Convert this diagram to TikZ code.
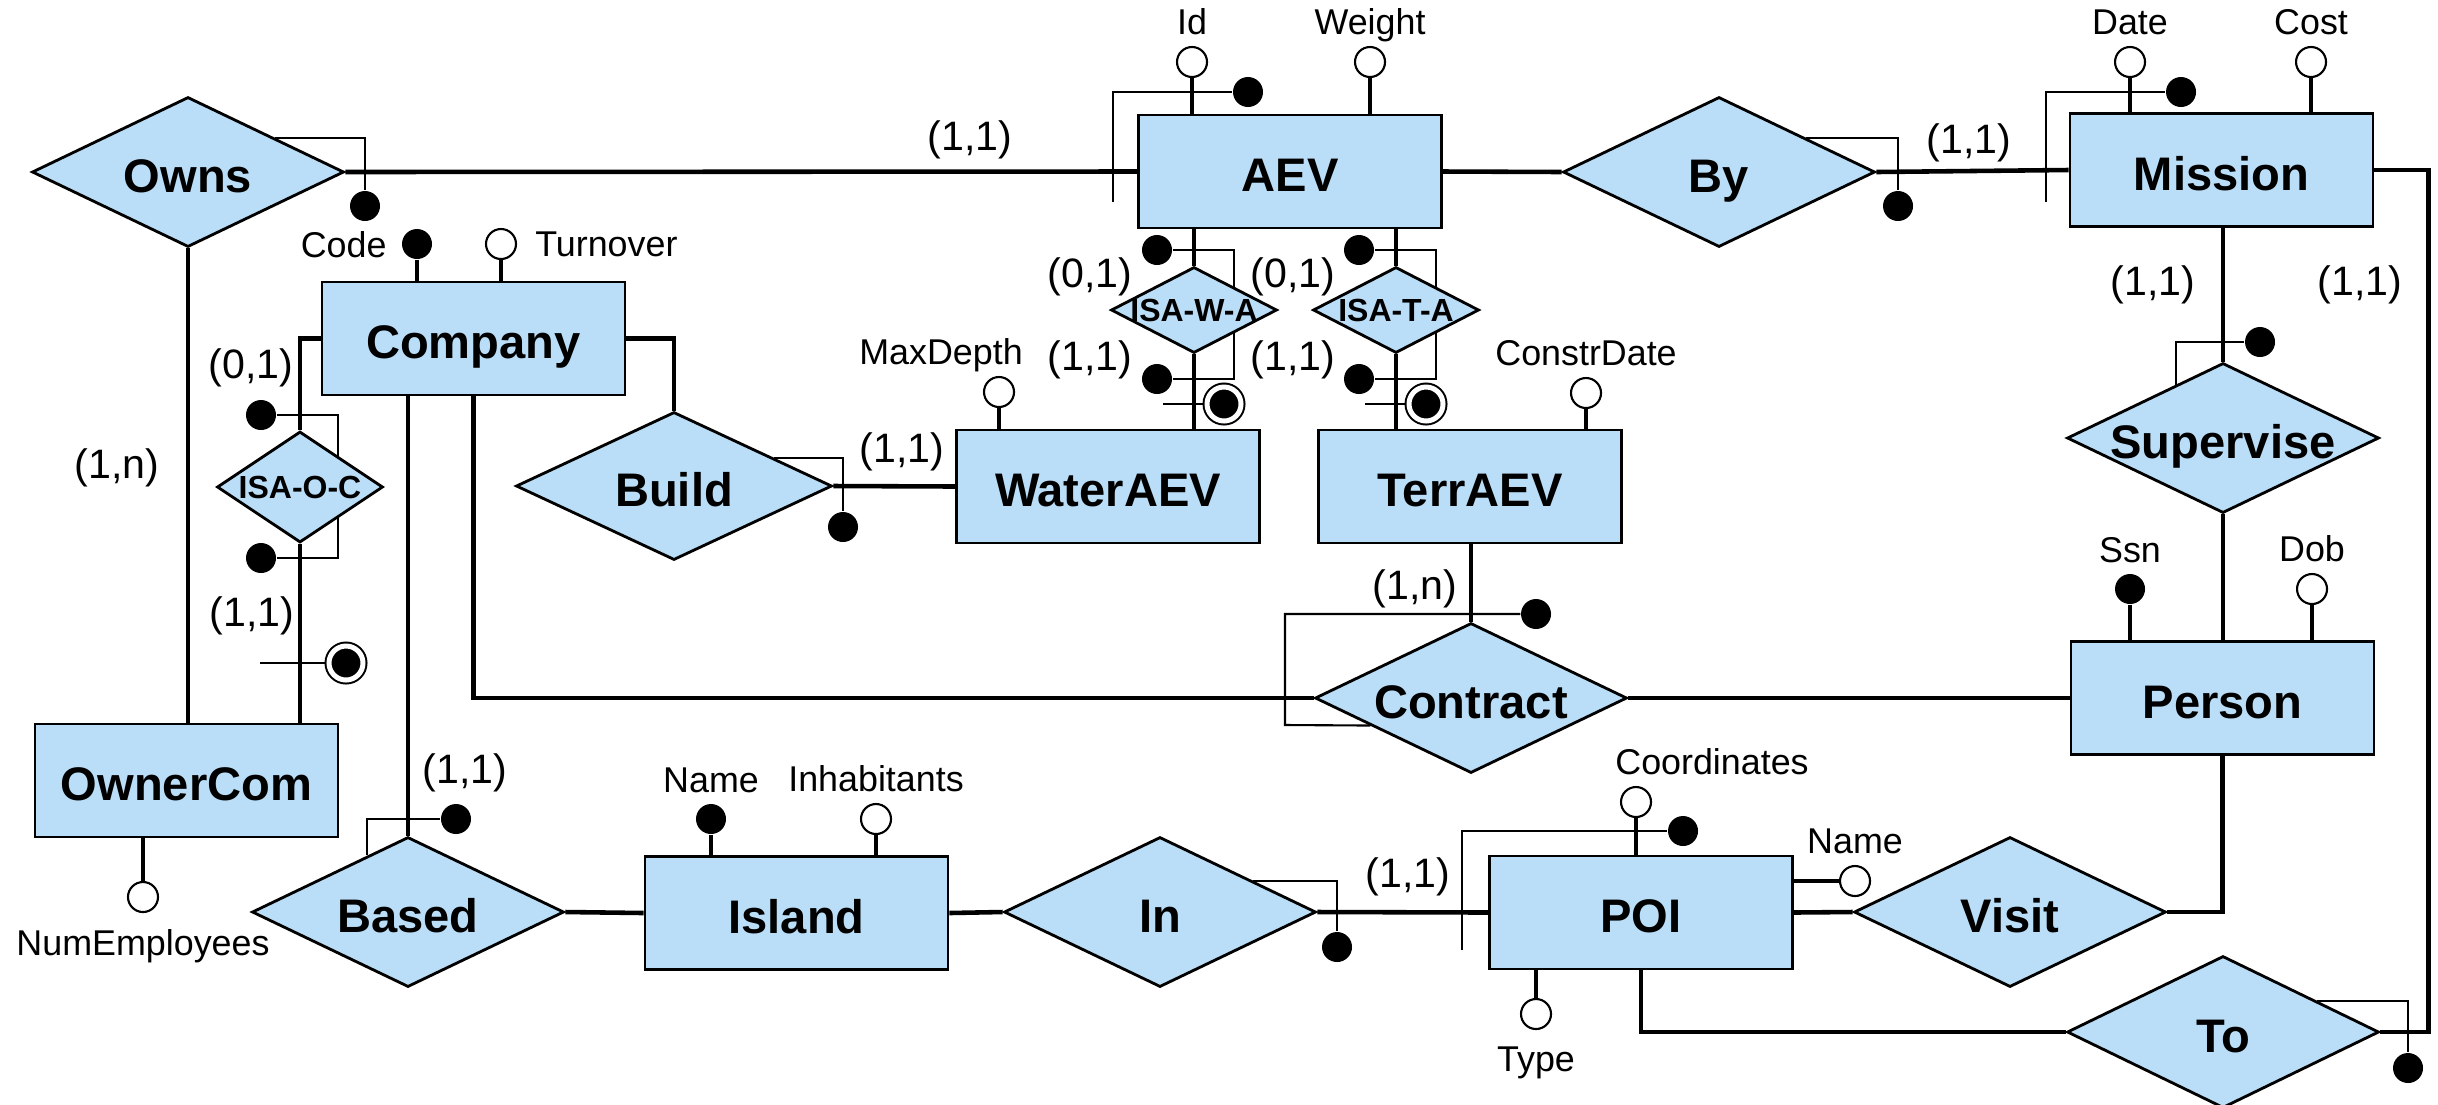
\documentclass[tikz,border=0pt]{standalone}
\usepackage{fontspec}
\setmainfont{Liberation Sans}
\usetikzlibrary{shapes.geometric,calc,backgrounds}
\definecolor{erblue}{RGB}{186,222,247}

\tikzset{ent/.style = {draw, fill=erblue, line width=0.8pt, inner sep=0pt,
                       minimum width=30.3mm, minimum height=11.3mm,
                       text height=11.4pt, text depth=0pt,
                       font=\fontsize{13.4}{15}\selectfont\bfseries},
         rel/.style = {diamond, draw, fill=erblue, line width=0.8pt,
                       inner sep=0pt, inner xsep=-3mm, aspect=2.08,
                       minimum width=31.2mm, minimum height=15mm,
                       text height=11.4pt, text depth=0pt,
                       font=\fontsize{13.4}{15}\selectfont\bfseries},
         isarel/.style = {diamond, draw, fill=erblue, line width=0.8pt,
                       inner sep=0pt, inner xsep=-2mm, aspect=1.93,
                       minimum width=16.6mm, minimum height=8.6mm,
                       font=\fontsize{9.1}{10}\selectfont\bfseries},
         keyatt/.style = {circle, fill=black, minimum size=3mm, inner sep=0pt},
         att/.style = {circle, draw, fill=white, line width=0.6pt,
                       minimum size=3mm, inner sep=0pt},
         extkey/.style = {circle, fill=black, draw=black, double=white,
                       line width=0.2mm, double distance=0.5mm,
                       minimum size=3.4mm, inner sep=0pt},
         card/.style = {font=\fontsize{11.7}{13}\selectfont, inner sep=0pt},
         conn/.style = {line width=1.3pt},
         brk/.style = {line width=0.6pt},
         every label/.style = {font=\fontsize{10.2}{12}\selectfont,
                       inner sep=3pt, text depth=0pt},
         label distance=0pt
        }

\begin{document}
\begin{tikzpicture}[x=0.1mm, y=-0.1mm]
\useasboundingbox (0,0) rectangle (2438,1104);

% entities
\node[ent] (company)  at (473.5,338.5) {Company};
\node[ent] (ownercom) at (186.5,780.5) {OwnerCom};
\node[ent] (aev)      at (1290,171.5)  {AEV};
\node[ent] (mission)  at (2221.5,170)  {Mission};
\node[ent] (wateraev) at (1108,486.5)  {WaterAEV};
\node[ent] (terraev)  at (1470,486.5)  {TerrAEV};
\node[ent] (island)   at (796.5,913)   {Island};
\node[ent] (poi)      at (1641,912.5)  {POI};
\node[ent] (person)   at (2222.5,698)  {Person};

% relationships
\node[rel] (owns)      at (188,172)  {Owns};
\node[rel, minimum width=31.6mm, minimum height=14.8mm] (build) at (674,486) {Build};
\node[rel] (based)     at (408,912)  {Based};
\node[rel] (inrel)     at (1160,912) {In};
\node[rel] (byrel)     at (1719,172) {By};
\node[rel] (supervise) at (2223,438) {Supervise};
\node[rel] (contract)  at (1471,698) {Contract};
\node[rel] (visit)     at (2010,912) {Visit};
\node[rel, minimum height=15.2mm] (torel) at (2223,1032) {To};
\node[isarel, minimum height=11.1mm] (isaoc) at (300,487) {ISA-O-C};
\node[isarel] (isawa) at (1194,310) {ISA-W-A};
\node[isarel] (isata) at (1396,310) {ISA-T-A};

% attributes
\node[keyatt, label={[inner sep=4pt]left:Code}] (code) at (417,244) {};
\node[att, label={[inner sep=5pt]right:Turnover}] (turnover) at (501,244) {};
\node[att, label=above:Id] (id) at (1192,62) {};
\node[att, label=above:Weight] (weight) at (1370,62) {};
\node[att, label=above:Date] (date) at (2130,62) {};
\node[att, label=above:Cost] (cost) at (2311,62) {};
\node[att, label={[xshift=-5.8mm]above:MaxDepth}] (maxdepth) at (999,392) {};
\node[att, label=above:ConstrDate] (constrdate) at (1586,393) {};
\node[keyatt, label=above:Name] (iname) at (711,819) {};
\node[att, label=above:Inhabitants] (inhab) at (876,819) {};
\node[keyatt, label=above:Ssn] (ssn) at (2130,589) {};
\node[att, label=above:Dob] (dob) at (2312,589) {};
\node[att, label={[xshift=7.6mm]above:Coordinates}] (coord) at (1636,802) {};
\node[att, label=above:Name] (pname) at (1855,881) {};
\node[att, label={[inner sep=4.6pt]below:Type}] (ptype) at (1536,1014) {};
\node[att, label={[inner sep=4.6pt]below:NumEmployees}] (numemp) at (143,897) {};

% identification marks
\node[keyatt] (ownsk)    at (365,206)   {};
\node[keyatt] (aevk)     at (1248,92)   {};
\node[keyatt] (missionk) at (2181,92)   {};
\node[keyatt] (byk)      at (1898,206)  {};
\node[keyatt] (supk)     at (2260,342)  {};
\node[keyatt] (buildk)   at (843,527)   {};
\node[keyatt] (contrk)   at (1536,614)  {};
\node[keyatt] (basedk)   at (456,819)   {};
\node[keyatt] (ink)      at (1337,947)  {};
\node[keyatt] (poik)     at (1683,831)  {};
\node[keyatt] (tok)      at (2408,1068) {};
\node[keyatt] (ocka) at (261,415)  {};
\node[keyatt] (ockb) at (261,558)  {};
\node[extkey] (ockx) at (346,663)  {};
\node[keyatt] (waka) at (1157,250) {};
\node[keyatt] (wakb) at (1157,379) {};
\node[extkey] (wakx) at (1224,404) {};
\node[keyatt] (taka) at (1359,250) {};
\node[keyatt] (takb) at (1359,379) {};
\node[extkey] (takx) at (1426,404) {};

\coordinate (aevb)     at (1113,202);
\coordinate (missionb) at (2046,202);
\coordinate (conb)     at (1285,725);
\coordinate (poib)     at (1462,950);
\coordinate (ocbr) at (338,487);
\coordinate (ocxs) at (260,663);
\coordinate (wabr) at (1234,310);
\coordinate (waxs) at (1163,404);
\coordinate (tabr) at (1436,310);
\coordinate (taxs) at (1365,404);

% cardinalities
\node[card] (c1)  at (970,140)  {(1,1)};
\node[card] (c2)  at (117,468)  {(1,n)};
\node[card] (c3)  at (251,368)  {(0,1)};
\node[card] (c4)  at (252,616)  {(1,1)};
\node[card] (c5)  at (465,773)  {(1,1)};
\node[card] (c6)  at (902,452)  {(1,1)};
\node[card] (c7)  at (1090,277) {(0,1)};
\node[card] (c8)  at (1090,360) {(1,1)};
\node[card] (c9)  at (1293,277) {(0,1)};
\node[card] (c10) at (1293,360) {(1,1)};
\node[card] (c11) at (1969,143) {(1,1)};
\node[card] (c12) at (2153,285) {(1,1)};
\node[card] (c13) at (2360,285) {(1,1)};
\node[card] (c14) at (1415,589) {(1,n)};
\node[card] (c15) at (1408,877) {(1,1)};

\begin{scope}[on background layer]
% links
\draw[conn] (owns.east) -- (aev.west);
\draw[conn] (owns.south) -- (owns.south |- ownercom.north);
\draw[conn] (company.east) -| (build.north);
\draw[conn] (company.west) -| (isaoc.north);
\draw[conn] (isaoc.south) -- (isaoc.south |- ownercom.north);
\draw[conn] (based.north |- company.south) -- (based.north);
\draw[conn] (company.south) |- (contract.west);
\draw[conn] (build.east) -- (wateraev.west);
\draw[conn] (isawa.north |- aev.south) -- (isawa.north);
\draw[conn] (isawa.south) -- (isawa.south |- wateraev.north);
\draw[conn] (isata.north |- aev.south) -- (isata.north);
\draw[conn] (isata.south) -- (isata.south |- terraev.north);
\draw[conn] (aev.east) -- (byrel.west);
\draw[conn] (byrel.east) -- (mission.west);
\draw[conn] (mission.east) -- ++(54,0) |- (torel.east);
\draw[conn] (supervise.north |- mission.south) -- (supervise.north);
\draw[conn] (supervise.south) -- (supervise.south |- person.north);
\draw[conn] (contract.east) -- (person.west);
\draw[conn] (contract.north |- terraev.south) -- (contract.north);
\draw[conn] (based.east) -- (island.west);
\draw[conn] (island.east) -- (inrel.west);
\draw[conn] (inrel.east) -- (poi.west);
\draw[conn] (poi.east) -- (visit.west);
\draw[conn] (visit.east) -| (person.south);
\draw[conn] (poi.south) |- (torel.west);
% attribute stems
\draw[conn] (code) -- (code |- company.north);
\draw[conn] (turnover) -- (turnover |- company.north);
\draw[conn] (id) -- (id |- aev.north);
\draw[conn] (weight) -- (weight |- aev.north);
\draw[conn] (date) -- (date |- mission.north);
\draw[conn] (cost) -- (cost |- mission.north);
\draw[conn] (maxdepth) -- (maxdepth |- wateraev.north);
\draw[conn] (constrdate) -- (constrdate |- terraev.north);
\draw[conn] (iname) -- (iname |- island.north);
\draw[conn] (inhab) -- (inhab |- island.north);
\draw[conn] (ssn) -- (ssn |- person.north);
\draw[conn] (dob) -- (dob |- person.north);
\draw[conn] (coord) -- (coord |- poi.north);
\draw[conn] (pname) -- (poi.east |- pname);
\draw[conn] (ptype) -- (ptype |- poi.south);
\draw[conn] (numemp) -- (numemp |- ownercom.south);
% identifiers
\draw[brk] ($(owns.north)!0.55!(owns.east)$) -| (ownsk);
\draw[brk] (aevb) |- (aevk);
\draw[brk] (missionb) |- (missionk);
\draw[brk] ($(byrel.north)!0.55!(byrel.east)$) -| (byk);
\draw[brk] ($(supervise.north)!0.3!(supervise.west)$) |- (supk);
\draw[brk] ($(build.north)!0.63!(build.east)$) -| (buildk);
\draw[brk] (contrk) -| (conb) -- ($(contract.west)!0.36!(contract.south)$);
\draw[brk] ($(based.north)!0.26!(based.west)$) |- (basedk);
\draw[brk] ($(inrel.north)!0.59!(inrel.east)$) -| (ink);
\draw[brk] (poib) |- (poik);
\draw[brk] ($(torel.north)!0.6!(torel.east)$) -| (tok);
\draw[brk] (ocka) -| (ocbr) |- (ockb);
\draw[brk] (ocxs) -- (ockx);
\draw[brk] (waka) -| (wabr) |- (wakb);
\draw[brk] (waxs) -- (wakx);
\draw[brk] (taka) -| (tabr) |- (takb);
\draw[brk] (taxs) -- (takx);
\end{scope}
\end{tikzpicture}
\end{document}
